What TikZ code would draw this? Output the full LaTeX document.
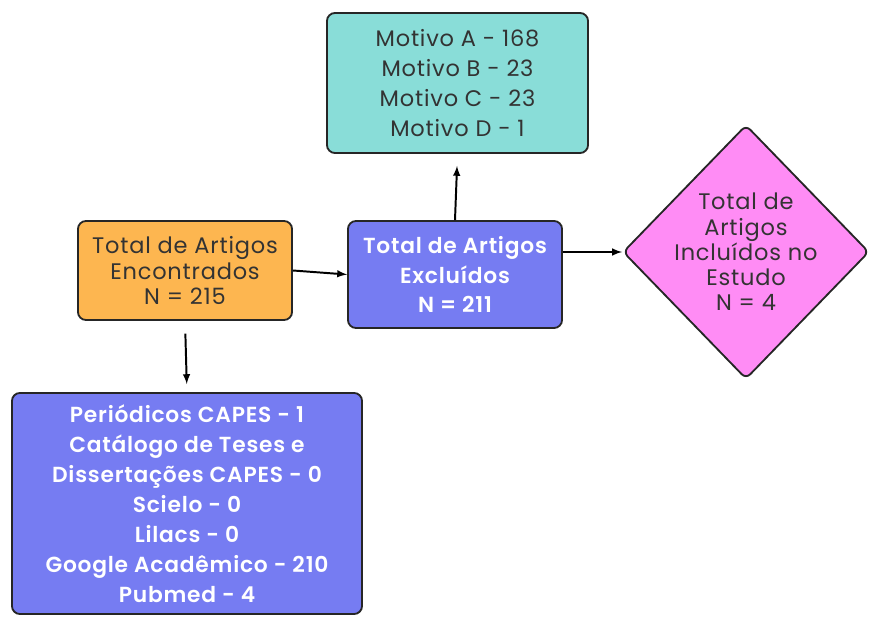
\documentclass[tikz,border=0pt]{standalone}
\usepackage{fontspec}
\setmainfont{Poppins}[LetterSpace=3.5, BoldFont={Poppins SemiBold}]
\usetikzlibrary{arrows, positioning, shapes.geometric}
\definecolor{turquesa}{RGB}{137,221,216}
\definecolor{laranja}{RGB}{253,182,80}
\definecolor{azul}{RGB}{118,124,242}
\definecolor{rosa}{RGB}{255,140,245}
\tikzset{caixa/.style={draw=black!85, line width=1.3pt, rounded corners=0.2cm, align=center, inner sep=0pt, text=black!80},
         escura/.style={caixa, fill=azul, text=white, font=\bfseries\fontsize{15.5}{21.3}\selectfont},
         losango/.style={diamond, draw=black!85, line width=1.3pt, rounded corners=0.15cm, fill=rosa, inner sep=0pt}}

\begin{document}
\begin{tikzpicture}[x=0.025cm, y=-0.025cm, >=latex, line width=1.4pt]
      \useasboundingbox (0,0) rectangle (869,617);
      \node[caixa, fill=turquesa, minimum width=6.525cm, minimum height=3.5cm, font=\fontsize{16}{21.3}\selectfont] (motivos) at (457.5,83) {Motivo A - 168\\Motivo B - 23\\Motivo C - 23\\Motivo D - 1};
      \node[caixa, fill=laranja, minimum width=5.35cm, minimum height=2.475cm, font=\fontsize{16}{18}\selectfont] (encontrados) at (185,270.5) {Total de Artigos\\Encontrados\\N = 215};
      \node[escura, minimum width=5.35cm, minimum height=2.675cm] (excluidos) at (455,274.5) {Total de Artigos\\Excluídos\\N = 211};
      \node[losango, minimum width=6.15cm, minimum height=6.35cm, label={[align=center, text=black!80, font=\fontsize{16}{18}\selectfont]center:{Total de\\Artigos\\Incluídos no\\Estudo\\N = 4}}] (incluidos) at (746,252) {};
      \node[escura, minimum width=8.75cm, minimum height=5.525cm] (fontes) at (187,503.5) {Periódicos CAPES - 1\\Catálogo de Teses e\\Dissertações CAPES - 0\\Scielo - 0\\Lilacs - 0\\Google Acadêmico - 210\\Pubmed - 4};
      \draw (encontrados.east) edge[->] (excluidos.west)
            (excluidos.north) edge[->, shorten >=0.3cm] (motivos.south)
            (excluidos.east |- incluidos.west) edge[->] (incluidos.west)
            (encontrados.south) edge[->, shorten <=0.32cm, shorten >=0.2cm] (fontes.north);
\end{tikzpicture}
\end{document}
